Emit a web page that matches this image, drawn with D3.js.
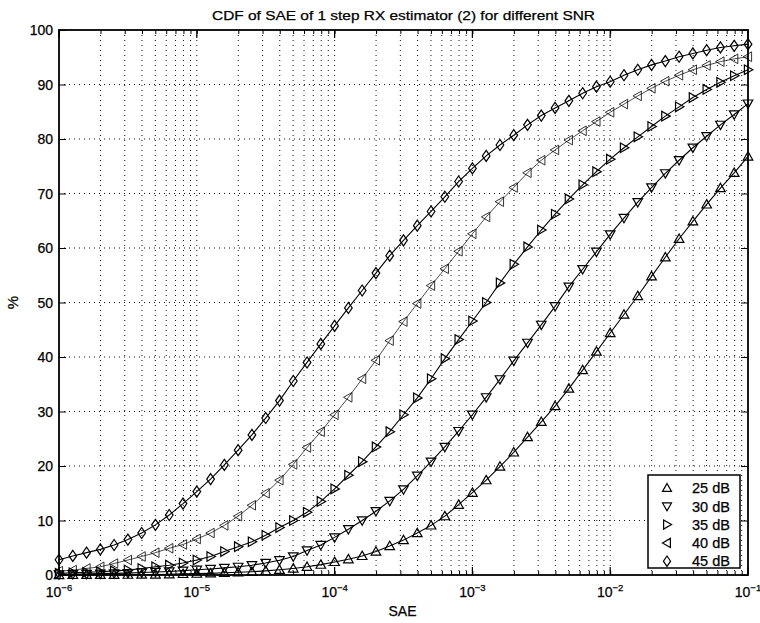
<!DOCTYPE html>
<html>
<head>
<meta charset="utf-8">
<script src="https://cdn.jsdelivr.net/npm/d3@7"></script>
<style>
  body { margin: 0; background: #fff; }
  svg text { font-family: "Liberation Sans", Arial, Helvetica, sans-serif; fill: #000; stroke: #000; stroke-width: 0.25px; }
</style>
</head>
<body>
<div id="chart"></div>
<script>
// SAE sampling grid: 10 points per decade from 1e-6 up to 1e-1
var mantissas = [1, 1.259, 1.585, 1.995, 2.512, 3.162, 3.981, 5.012, 6.310, 7.943];
var decades = [-6, -5, -4, -3, -2];
var saeValues = decades.flatMap(function(e){ return mantissas.map(function(m){ return m * Math.pow(10, e); }); }).concat([0.1]);

// CDF values (%), one per SAE sample
var cdf25 = [0.0, 0.02, 0.03, 0.04, 0.05, 0.06, 0.08, 0.1, 0.15, 0.2,
  0.25, 0.3, 0.4, 0.5, 0.6, 0.75, 0.95, 1.2, 1.5, 1.9,
  2.4, 2.9, 3.5, 4.3, 5.3, 6.4, 7.7, 9.1, 10.8, 12.9,
  15.1, 17.4, 19.9, 22.5, 25.3, 28.1, 31.0, 34.2, 37.6, 41.0,
  44.4, 47.8, 51.2, 54.8, 58.3, 61.7, 64.9, 68.0, 71.0, 73.8, 76.8];
var cdf30 = [0.1, 0.15, 0.2, 0.25, 0.3, 0.35, 0.45, 0.55, 0.65, 0.8,
  0.95, 1.1, 1.3, 1.5, 1.8, 2.2, 2.7, 3.4, 4.5, 5.5,
  6.9, 8.4, 10.0, 11.7, 13.6, 15.7, 18.2, 20.8, 23.5, 26.4,
  29.4, 32.6, 35.9, 39.3, 42.6, 45.9, 49.3, 52.9, 56.1, 59.3,
  62.5, 65.5, 68.4, 71.1, 73.7, 76.1, 78.4, 80.5, 82.6, 84.5, 86.5];
var cdf35 = [0.3, 0.4, 0.5, 0.6, 0.75, 0.9, 1.2, 1.5, 1.8, 2.2,
  2.75, 3.4, 4.3, 5.2, 6.1, 7.3, 8.7, 10.0, 11.5, 13.5,
  15.8, 18.3, 20.8, 23.5, 26.3, 29.4, 32.5, 36.0, 39.7, 43.2,
  46.6, 50.0, 53.6, 57.0, 60.2, 63.3, 66.2, 69.0, 71.6, 74.0,
  76.3, 78.4, 80.4, 82.3, 84.2, 85.9, 87.6, 89.1, 90.4, 91.6, 92.7];
var cdf40 = [0.7, 0.9, 1.2, 1.5, 2.1, 2.75, 3.4, 4.1, 4.9, 5.6,
  6.6, 7.7, 9.1, 10.8, 12.8, 15.0, 17.4, 20.3, 23.4, 26.3,
  29.4, 32.6, 36.0, 39.4, 43.0, 46.5, 49.8, 53.1, 56.2, 59.4,
  62.6, 65.7, 68.5, 71.1, 73.8, 76.1, 78.0, 79.8, 81.5, 83.2,
  84.9, 86.4, 87.9, 89.3, 90.6, 91.7, 92.7, 93.5, 94.2, 94.7, 95.1];
var cdf45 = [2.8, 3.5, 4.1, 4.7, 5.5, 6.5, 7.7, 9.2, 11.0, 13.1,
  15.3, 17.6, 20.2, 22.9, 25.7, 28.8, 32.0, 35.6, 39.0, 42.4,
  45.7, 49.0, 52.2, 55.4, 58.6, 61.4, 64.1, 66.7, 69.4, 72.2,
  74.6, 76.9, 78.9, 80.7, 82.6, 84.3, 85.7, 87.0, 88.4, 89.6,
  90.5, 91.7, 92.7, 93.6, 94.3, 95.1, 95.7, 96.3, 96.8, 97.1, 97.4];

var seriesNames = ["25 dB", "30 dB", "35 dB", "40 dB", "45 dB"];
var seriesMarkers = ["up", "down", "right", "left", "diamond"];
var seriesValues = [cdf25, cdf30, cdf35, cdf40, cdf45];

var xTickExps = [-6, -5, -4, -3, -2, -1];
var yTicks = [0, 10, 20, 30, 40, 50, 60, 70, 80, 90, 100];

// Layout
var width = 760, height = 623;
var margin = {top: 30, right: 12, bottom: 48, left: 59};
var plotW = width - margin.left - margin.right;
var plotH = height - margin.top - margin.bottom;

var svg = d3.select("#chart").append("svg")
  .attr("width", width)
  .attr("height", height);

var x = d3.scaleLog().domain([1e-6, 1e-1]).range([0, plotW]);
var y = d3.scaleLinear().domain([0, 100]).range([plotH, 0]);

var g = svg.append("g")
  .attr("transform", "translate(" + margin.left + "," + margin.top + ")");

// minor + major log positions for the grid
var gridX = x.ticks();
var grid = g.append("g").attr("class", "grid");

grid.selectAll(".vgrid").data(gridX.filter(function(d){ return d > 1e-6 && d < 1e-1; }))
  .enter().append("line")
  .attr("x1", function(d){ return x(d); })
  .attr("x2", function(d){ return x(d); })
  .attr("y1", 0).attr("y2", plotH)
  .attr("stroke", "#111")
  .attr("stroke-width", 1)
  .attr("stroke-dasharray", "1,4");

grid.selectAll(".hgrid").data(yTicks.filter(function(d){ return d > 0 && d < 100; }))
  .enter().append("line")
  .attr("x1", 0).attr("x2", plotW)
  .attr("y1", function(d){ return y(d); })
  .attr("y2", function(d){ return y(d); })
  .attr("stroke", "#111")
  .attr("stroke-width", 1)
  .attr("stroke-dasharray", "1,4");

// Curves
var line = d3.line()
  .x(function(d){ return x(d[0]); })
  .y(function(d){ return y(d[1]); });

function markerPath(type, s){
  var h = s;
  if (type === "up") return "M0," + (-h) + "L" + h + "," + (h * 0.75) + "L" + (-h) + "," + (h * 0.75) + "Z";
  if (type === "down") return "M0," + h + "L" + h + "," + (-h * 0.75) + "L" + (-h) + "," + (-h * 0.75) + "Z";
  if (type === "right") return "M" + h + ",0L" + (-h * 0.75) + "," + h + "L" + (-h * 0.75) + "," + (-h) + "Z";
  if (type === "left") return "M" + (-h) + ",0L" + (h * 0.75) + "," + h + "L" + (h * 0.75) + "," + (-h) + "Z";
  return "M0," + (-h * 1.15) + "L" + (h * 0.8) + ",0L0," + (h * 1.15) + "L" + (-h * 0.8) + ",0Z";
}

seriesValues.forEach(function(vals, k){
  var pts = saeValues.map(function(s, i){ return [s, vals[i]]; });
  var thin = seriesMarkers[k] === "left";
  g.append("path")
    .datum(pts)
    .attr("fill", "none")
    .attr("stroke", "#000")
    .attr("stroke-width", thin ? 0.7 : 1.1)
    .attr("d", line);

  g.selectAll(".m" + k).data(pts)
    .enter().append("path")
    .attr("class", "m" + k)
    .attr("transform", function(d){ return "translate(" + x(d[0]) + "," + y(d[1]) + ")"; })
    .attr("d", markerPath(seriesMarkers[k], 4.8))
    .attr("fill", "none")
    .attr("stroke", "#000")
    .attr("stroke-width", thin ? 0.8 : 1.2);
});

// Axes with inward ticks on all sides
var xAxisB = d3.axisBottom(x).tickValues(gridX).tickSize(-4).tickFormat("");
var xAxisT = d3.axisTop(x).tickValues(gridX).tickSize(-4).tickFormat("");
var yAxisL = d3.axisLeft(y).tickValues(yTicks).tickSize(-7).tickFormat("");
var yAxisR = d3.axisRight(y).tickValues(yTicks).tickSize(-7).tickFormat("");

g.append("g").attr("transform", "translate(0," + plotH + ")").call(xAxisB);
g.append("g").call(xAxisT);
g.append("g").call(yAxisL);
g.append("g").attr("transform", "translate(" + plotW + ",0)").call(yAxisR);

// longer ticks at decades
var decTicks = xTickExps.map(function(e){ return Math.pow(10, e); });
g.selectAll(".majB").data(decTicks).enter().append("line")
  .attr("x1", function(d){ return x(d); }).attr("x2", function(d){ return x(d); })
  .attr("y1", plotH).attr("y2", plotH - 8)
  .attr("stroke", "#000").attr("stroke-width", 1.2);
g.selectAll(".majT").data(decTicks).enter().append("line")
  .attr("x1", function(d){ return x(d); }).attr("x2", function(d){ return x(d); })
  .attr("y1", 0).attr("y2", 8)
  .attr("stroke", "#000").attr("stroke-width", 1.2);

g.selectAll(".domain").remove();
g.selectAll(".tick line").attr("stroke", "#000").attr("stroke-width", 1);

// frame
g.append("rect")
  .attr("x", 0).attr("y", 0)
  .attr("width", plotW).attr("height", plotH)
  .attr("fill", "none")
  .attr("stroke", "#000")
  .attr("stroke-width", 1.8);

// Tick labels
g.selectAll(".ylab").data(yTicks).enter().append("text")
  .attr("x", -6)
  .attr("y", function(d){ return y(d); })
  .attr("dy", "0.36em")
  .attr("text-anchor", "end")
  .attr("font-size", 14)
  .text(function(d){ return d; });

var xl = g.selectAll(".xlab").data(xTickExps).enter().append("text")
  .attr("x", function(d){ return x(Math.pow(10, d)); })
  .attr("y", plotH + 22)
  .attr("text-anchor", "middle")
  .attr("font-size", 14);
xl.append("tspan").text("10");
xl.append("tspan")
  .attr("dy", -6)
  .attr("font-size", 9.5)
  .text(function(d){ return "\u2212" + Math.abs(d); });

// Titles
svg.append("text")
  .attr("x", margin.left + plotW / 2)
  .attr("y", 20)
  .attr("text-anchor", "middle")
  .attr("font-size", 13)
  .attr("textLength", 383)
  .attr("lengthAdjust", "spacingAndGlyphs")
  .text("CDF of SAE of 1 step RX estimator (2) for different SNR");

svg.append("text")
  .attr("x", margin.left + plotW / 2 - 1)
  .attr("y", 616)
  .attr("text-anchor", "middle")
  .attr("font-size", 14)
  .text("SAE");

svg.append("text")
  .attr("transform", "translate(18," + (margin.top + plotH / 2) + ") rotate(-90)")
  .attr("text-anchor", "middle")
  .attr("font-size", 15)
  .text("%");

// Legend
var legW = 92, legH = 93;
var legend = g.append("g")
  .attr("transform", "translate(" + (plotW - legW - 8) + "," + (plotH - legH - 7) + ")");

legend.append("rect")
  .attr("width", legW).attr("height", legH)
  .attr("fill", "#fff")
  .attr("stroke", "#000")
  .attr("stroke-width", 1.5);

var items = legend.selectAll(".leg").data(seriesNames).enter().append("g")
  .attr("transform", function(d, i){ return "translate(0," + (13 + i * 18.3) + ")"; });

items.append("path")
  .attr("transform", "translate(19,0)")
  .attr("d", function(d, i){ return markerPath(seriesMarkers[i], 4.5); })
  .attr("fill", "none")
  .attr("stroke", "#000")
  .attr("stroke-width", 1.2);

items.append("text")
  .attr("x", 44)
  .attr("dy", "0.36em")
  .attr("font-size", 14.5)
  .text(function(d){ return d; });
</script>
</body>
</html>
